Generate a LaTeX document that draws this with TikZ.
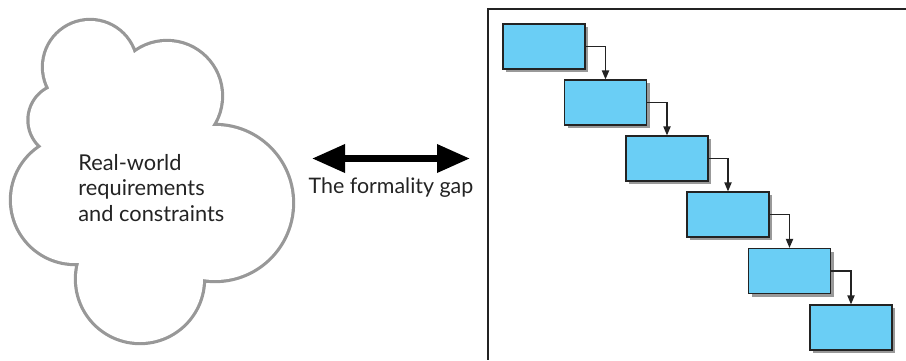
\documentclass[tikz,border=0pt]{standalone}
\usepackage{fontspec}
\setmainfont{Lato}
\usetikzlibrary{arrows.meta, shadows}
\definecolor{boxblue}{RGB}{106,206,245}
\definecolor{cloudgray}{RGB}{152,152,152}
\definecolor{inkgray}{RGB}{35,35,35}

\begin{document}
\begin{tikzpicture}[
    x=0.5pt, y=-0.5pt,
    stagebox/.style={rectangle, draw=inkgray, line width=0.6pt, fill=boxblue, minimum width=41pt, minimum height=22.5pt, inner sep=0pt, drop shadow={shadow xshift=1.6pt, shadow yshift=-1.6pt, fill=black!40, opacity=1}},
    flow/.style={line width=0.65pt, draw=inkgray, -{Triangle[length=4.5pt, width=3.6pt]}},
    gaparrow/.style={line width=3.3pt, draw=black, {Triangle[length=16.5pt, width=13.5pt]}-{Triangle[length=16.5pt, width=13.5pt]}},
    cloudtext/.style={anchor=west, align=left, inner sep=0pt, text=inkgray, font=\fontsize{10.9}{12.8}\selectfont},
    gaptext/.style={inner sep=0pt, text=inkgray, font=\fontsize{10.7}{12.8}\selectfont}
]
    \useasboundingbox (0,0) rectangle (906,360);

    % Cloud: thick grey circles, white fill on top leaves the outline
    \draw[cloudgray, line width=3.2pt] (90,67) circle[radius=46] (167,96) circle[radius=54] (215,203) circle[radius=77]
        (140,279) circle[radius=63] (75,200) circle[radius=63] (64.5,120) circle[radius=35];
    \fill[white] (90,67) circle[radius=46] (167,96) circle[radius=54] (215,203) circle[radius=77]
        (140,279) circle[radius=63] (75,200) circle[radius=63] (64.5,120) circle[radius=35];
    \fill[white] (90,67) -- (167,96) -- (215,203) -- (140,279) -- (75,200) -- (64.5,120) -- cycle;
    \node[cloudtext] (realworld) at (78,188) {Real-world\\requirements\\and constraints};

    % The gap
    \coordinate (gapL) at (312,158.5);
    \coordinate (gapR) at (470,158.5);
    \draw[gaparrow] (gapL) -- (gapR);
    \node[gaptext] (gaplabel) at (391,188) {The formality gap};

    % Frame of the formal model
    \draw[inkgray, line width=1pt] (906,9) -- (488,9) -- (488,360);

    % Stages
    \node[stagebox] (stage1) at (544,46.5) {};
    \node[stagebox] (stage2) at (605.5,102.5) {};
    \node[stagebox] (stage3) at (667,158.5) {};
    \node[stagebox] (stage4) at (728,214.5) {};
    \node[stagebox] (stage5) at (789.5,271) {};
    \node[stagebox] (stage6) at (851,327.5) {};

    \draw[flow] (stage1.east) -| (stage2.north);
    \draw[flow] (stage2.east) -| (stage3.north);
    \draw[flow] (stage3.east) -| (stage4.north);
    \draw[flow] (stage4.east) -| (stage5.north);
    \draw[flow] (stage5.east) -| (stage6.north);
\end{tikzpicture}
\end{document}
